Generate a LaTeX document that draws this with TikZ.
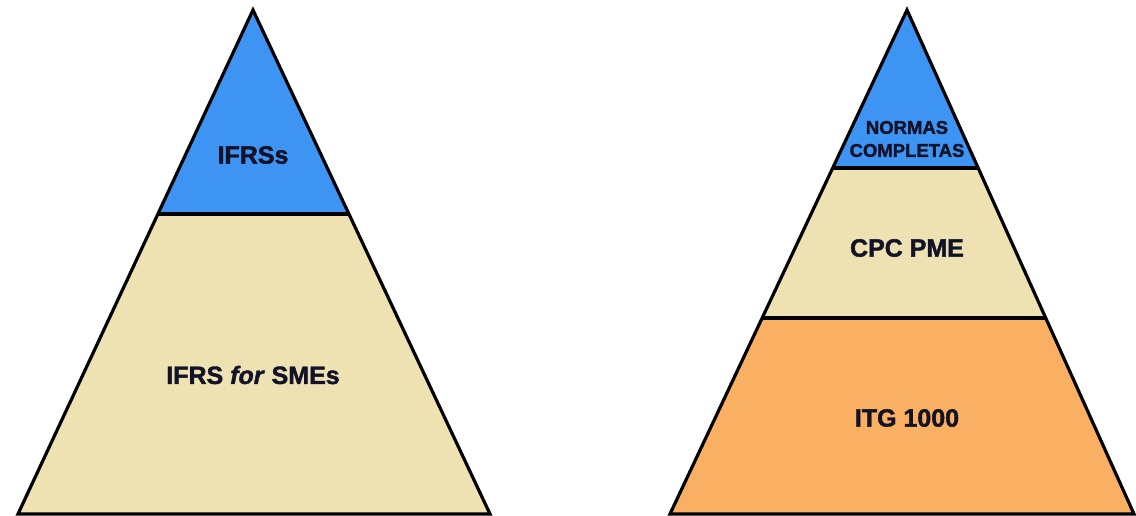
\documentclass[tikz,border=0pt]{standalone}
\usepackage{fontspec}
\setmainfont{Liberation Sans}
\newfontfamily\heavyfont{Liberation Sans}[BoldFeatures={FakeBold=1.6},BoldItalicFeatures={FakeBold=1.6}]
\usetikzlibrary{calc}
\definecolor{topblue}{RGB}{62,148,242}
\definecolor{midtan}{RGB}{238,226,178}
\definecolor{loworange}{RGB}{250,176,98}
\definecolor{textc}{RGB}{18,18,40}
\begin{document}
\begin{tikzpicture}[x=1pt,y=-1pt,line join=miter,
  outline/.style={draw=black,line width=3.2pt},
  divider/.style={draw=black,line width=3.2pt},
  lbl/.style={font=\heavyfont\bfseries\fontsize{25}{29}\selectfont,text=textc,inner sep=0pt,align=center},
  smalllbl/.style={font=\heavyfont\bfseries\fontsize{18.5}{23}\selectfont,text=textc,inner sep=0pt,align=center}]
\useasboundingbox (0,0) rectangle (1136,516);
% ---------- left pyramid ----------
\coordinate (LA) at (253,10);
\coordinate (LL) at (18,514);
\coordinate (LR) at (490,514);
\coordinate (L1l) at ($(LA)!0.4048!(LL)$);
\coordinate (L1r) at ($(LA)!0.4048!(LR)$);
\fill[topblue] (LA) -- (L1l) -- (L1r) -- cycle;
\fill[midtan] (L1l) -- (LL) -- (LR) -- (L1r) -- cycle;
\draw[divider] (L1l) -- (L1r);
\draw[outline] (LA) -- (LL) -- (LR) -- cycle;
\node[lbl] (ifrss) at (253,155) {IFRSs};
\node[lbl] (ifrssme) at (253,375) {IFRS \textit{for} SMEs};
% ---------- right pyramid ----------
\coordinate (RA) at (907,10);
\coordinate (RL) at (670,514);
\coordinate (RR) at (1134,514);
\coordinate (R1l) at ($(RA)!0.3135!(RL)$);
\coordinate (R1r) at ($(RA)!0.3135!(RR)$);
\coordinate (R2l) at ($(RA)!0.6111!(RL)$);
\coordinate (R2r) at ($(RA)!0.6111!(RR)$);
\fill[topblue] (RA) -- (R1l) -- (R1r) -- cycle;
\fill[midtan] (R1l) -- (R2l) -- (R2r) -- (R1r) -- cycle;
\fill[loworange] (R2l) -- (RL) -- (RR) -- (R2r) -- cycle;
\draw[divider] (R1l) -- (R1r);
\draw[divider] (R2l) -- (R2r);
\draw[outline] (RA) -- (RL) -- (RR) -- cycle;
\node[smalllbl] (normas) at (907,139) {NORMAS\\COMPLETAS};
\node[lbl] (cpc) at (907,248) {CPC PME};
\node[lbl] (itg) at (907,418) {ITG 1000};
\end{tikzpicture}
\end{document}
